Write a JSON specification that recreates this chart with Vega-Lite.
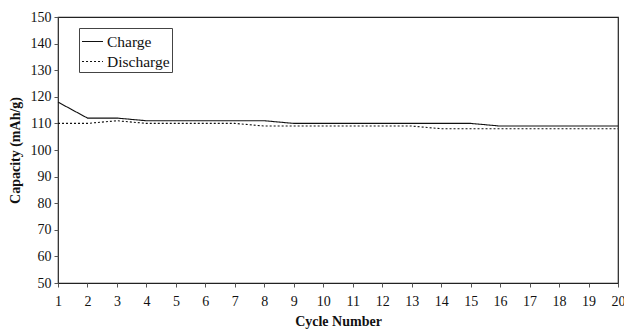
{
  "$schema": "https://vega.github.io/schema/vega-lite/v6.json",
  "width": 560,
  "height": 266,
  "autosize": {"type": "none"},
  "padding": {"left": 58, "top": 17, "right": 6, "bottom": 48},
  "background": "white",
  "config": {
    "font": "Liberation Serif",
    "view": {"stroke": "#222", "strokeWidth": 1.2}
  },
  "data": {
    "values": [
      {"cycle": 1, "series": "Charge", "capacity": 118},
      {"cycle": 2, "series": "Charge", "capacity": 112},
      {"cycle": 3, "series": "Charge", "capacity": 112},
      {"cycle": 4, "series": "Charge", "capacity": 111},
      {"cycle": 5, "series": "Charge", "capacity": 111},
      {"cycle": 6, "series": "Charge", "capacity": 111},
      {"cycle": 7, "series": "Charge", "capacity": 111},
      {"cycle": 8, "series": "Charge", "capacity": 111},
      {"cycle": 9, "series": "Charge", "capacity": 110},
      {"cycle": 10, "series": "Charge", "capacity": 110},
      {"cycle": 11, "series": "Charge", "capacity": 110},
      {"cycle": 12, "series": "Charge", "capacity": 110},
      {"cycle": 13, "series": "Charge", "capacity": 110},
      {"cycle": 14, "series": "Charge", "capacity": 110},
      {"cycle": 15, "series": "Charge", "capacity": 110},
      {"cycle": 16, "series": "Charge", "capacity": 109},
      {"cycle": 17, "series": "Charge", "capacity": 109},
      {"cycle": 18, "series": "Charge", "capacity": 109},
      {"cycle": 19, "series": "Charge", "capacity": 109},
      {"cycle": 20, "series": "Charge", "capacity": 109},
      {"cycle": 1, "series": "Discharge", "capacity": 110},
      {"cycle": 2, "series": "Discharge", "capacity": 110},
      {"cycle": 3, "series": "Discharge", "capacity": 111},
      {"cycle": 4, "series": "Discharge", "capacity": 110},
      {"cycle": 5, "series": "Discharge", "capacity": 110},
      {"cycle": 6, "series": "Discharge", "capacity": 110},
      {"cycle": 7, "series": "Discharge", "capacity": 110},
      {"cycle": 8, "series": "Discharge", "capacity": 109},
      {"cycle": 9, "series": "Discharge", "capacity": 109},
      {"cycle": 10, "series": "Discharge", "capacity": 109},
      {"cycle": 11, "series": "Discharge", "capacity": 109},
      {"cycle": 12, "series": "Discharge", "capacity": 109},
      {"cycle": 13, "series": "Discharge", "capacity": 109},
      {"cycle": 14, "series": "Discharge", "capacity": 108},
      {"cycle": 15, "series": "Discharge", "capacity": 108},
      {"cycle": 16, "series": "Discharge", "capacity": 108},
      {"cycle": 17, "series": "Discharge", "capacity": 108},
      {"cycle": 18, "series": "Discharge", "capacity": 108},
      {"cycle": 19, "series": "Discharge", "capacity": 108},
      {"cycle": 20, "series": "Discharge", "capacity": 108}
    ]
  },
  "mark": {"type": "line", "color": "#111", "strokeWidth": 1.1},
  "encoding": {
    "x": {
      "field": "cycle",
      "type": "quantitative",
      "scale": {"domain": [1, 20], "nice": false, "zero": false},
      "axis": {
        "title": "Cycle Number",
        "values": [1,2,3,4,5,6,7,8,9,10,11,12,13,14,15,16,17,18,19,20],
        "grid": false,
        "domain": false,
        "tickColor": "#555",
        "tickSize": 4,
        "labelFont": "Liberation Serif",
        "labelFontSize": 14,
        "labelColor": "#111",
        "labelPadding": 7,
        "labelFlush": false,
        "titleFont": "Liberation Serif",
        "titleFontSize": 14,
        "titleFontWeight": "bold",
        "titleColor": "#111",
        "titlePadding": 6
      }
    },
    "y": {
      "field": "capacity",
      "type": "quantitative",
      "scale": {"domain": [50, 150], "nice": false, "zero": false},
      "axis": {
        "title": "Capacity (mAh/g)",
        "values": [50,60,70,80,90,100,110,120,130,140,150],
        "grid": false,
        "domain": false,
        "tickColor": "#555",
        "tickSize": 4,
        "labelFont": "Liberation Serif",
        "labelFontSize": 14,
        "labelColor": "#111",
        "labelPadding": 3,
        "titleFont": "Liberation Serif",
        "titleFontSize": 14,
        "titleFontWeight": "bold",
        "titleColor": "#111",
        "titlePadding": 8
      }
    },
    "strokeDash": {
      "field": "series",
      "type": "nominal",
      "scale": {"domain": ["Charge", "Discharge"], "range": [[1, 0], [2, 2]]},
      "legend": {
        "title": null,
        "orient": "none",
        "legendX": 21,
        "legendY": 11,
        "direction": "vertical",
        "symbolType": "stroke",
        "symbolSize": 440,
        "symbolStrokeWidth": 1.1,
        "symbolStrokeColor": "#111",
        "labelFont": "Liberation Serif",
        "labelFontSize": 15.5,
        "labelColor": "#111",
        "labelOffset": 3,
        "rowPadding": 0,
        "padding": 2,
        "strokeColor": "#444",
        "fillColor": "white"
      }
    }
  }
}
